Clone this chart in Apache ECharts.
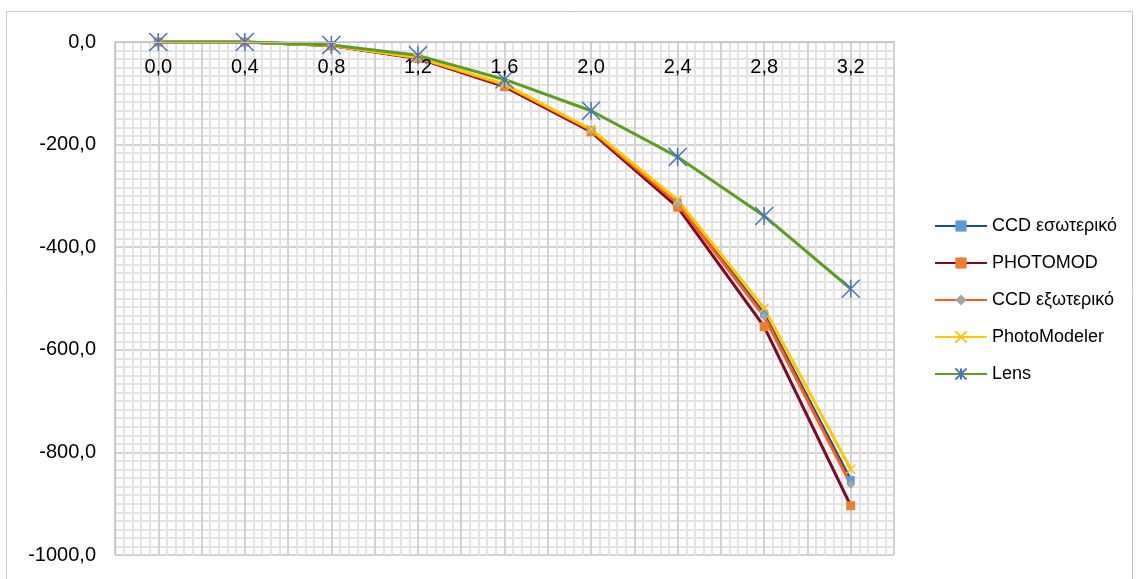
<!DOCTYPE html>
<html>
<head>
<meta charset="utf-8">
<script src="https://cdn.jsdelivr.net/npm/echarts@6/dist/echarts.min.js"></script>
<style>
html,body{margin:0;padding:0;background:#fff;}
#chart{width:1140px;height:579px;}
</style>
</head>
<body>
<div id="chart"></div>
<script>
// Data
const categories = ['0,0','0,4','0,8','1,2','1,6','2,0','2,4','2,8','3,2'];
const seriesNames = ['CCD εσωτερικό','PHOTOMOD','CCD εξωτερικό','PhotoModeler','Lens'];
const ccdInner    = [0, 0, -7, -31, -84, -172, -313, -530, -854];
const photomod    = [0, 0, -7, -32, -87, -175, -322, -555, -904];
const ccdOuter    = [0, 0, -7, -31, -84, -172, -315, -535, -862];
const photoModeler= [0, 0, -7, -30, -82, -170, -308, -519, -833];
const lens        = [0, 0, -6, -26, -73, -134, -224, -339, -481];
const yMin = -1000, yMax = 0, yStep = 200;

const FONT = '"Liberation Sans", Arial, sans-serif';
const fmt = v => v.toFixed(1).replace('.', ',');

const chart = echarts.init(document.getElementById('chart'));

function mkSeries(name, data, lineColor, symbol, size, fill, stroke, bw) {
  return {
    name: name,
    type: 'line',
    xAxisIndex: 0,
    yAxisIndex: 0,
    data: data,
    symbol: symbol,
    symbolSize: size,
    showAllSymbol: true,
    lineStyle: { color: lineColor, width: 3 },
    itemStyle: { color: fill, borderColor: stroke, borderWidth: bw },
    emphasis: { disabled: true },
    animation: false
  };
}

const star = 'path://M0,0L18,18M18,0L0,18M9,0L9,18';
const xMark = 'path://M0,0L10,10M10,0L0,10';

chart.setOption({
  animation: false,
  backgroundColor: '#fff',
  textStyle: { fontFamily: FONT },
  graphic: [{
    type: 'rect',
    shape: { x: 6.5, y: 11.5, width: 1126, height: 600 },
    style: { fill: 'none', stroke: '#c8c8c8', lineWidth: 1 },
    silent: true, z: -10
  }],
  grid: { left: 115, right: 246, top: 42, bottom: 24, containLabel: false },
  legend: {
    orient: 'vertical',
    left: 929,
    top: 212,
    itemWidth: 52,
    itemHeight: 14,
    itemGap: 19,
    textStyle: { fontFamily: FONT, fontSize: 18, lineHeight: 18, color: '#000' },
    data: seriesNames
  },
  xAxis: [{
    type: 'category',
    data: categories,
    position: 'top',
    boundaryGap: true,
    axisLine: { show: true, onZero: false, lineStyle: { color: '#bfbfbf', width: 1 } },
    axisTick: { show: false },
    axisLabel: { inside: true, margin: 15, fontSize: 20, color: '#000', fontFamily: FONT, interval: 0 },
    splitLine: { show: false },
    z: 5
  }, {
    type: 'value',
    min: 0, max: categories.length * 2, interval: 1,
    show: true,
    axisLine: { show: false }, axisTick: { show: false }, axisLabel: { show: false },
    splitLine: { show: true, lineStyle: { color: '#d2d2d2', width: 2 } },
    minorTick: { show: false, splitNumber: 5 },
    minorSplitLine: { show: true, lineStyle: { color: '#e3e3e3', width: 2 } }
  }],
  yAxis: {
    type: 'value',
    min: yMin, max: yMax, interval: yStep,
    axisLine: { show: true, lineStyle: { color: '#bfbfbf', width: 1 } },
    axisTick: { show: false },
    axisLabel: { margin: 19, fontSize: 20, color: '#000', fontFamily: FONT, formatter: v => fmt(v) },
    splitLine: { show: true, lineStyle: { color: '#d2d2d2', width: 2 } },
    minorTick: { show: false, splitNumber: 12 },
    minorSplitLine: { show: true, lineStyle: { color: '#e3e3e3', width: 2 } }
  },
  series: [
    mkSeries(seriesNames[0], ccdInner, '#174F85', 'rect', 8, '#5B9BD5', '#5B9BD5', 0),
    mkSeries(seriesNames[1], photomod, '#7B0A2A', 'rect', 9, '#ED7D31', '#ED7D31', 0),
    mkSeries(seriesNames[2], ccdOuter, '#FF5A1F', 'diamond', 9, '#A5A5A5', '#A5A5A5', 0),
    mkSeries(seriesNames[3], photoModeler, '#FFC800', xMark, 9, '#FFC000', '#FFC000', 1.5),
    mkSeries(seriesNames[4], lens, '#5C9E24', star, 18, '#4472C4', '#4472C4', 1.5)
  ]
});
</script>
</body>
</html>
